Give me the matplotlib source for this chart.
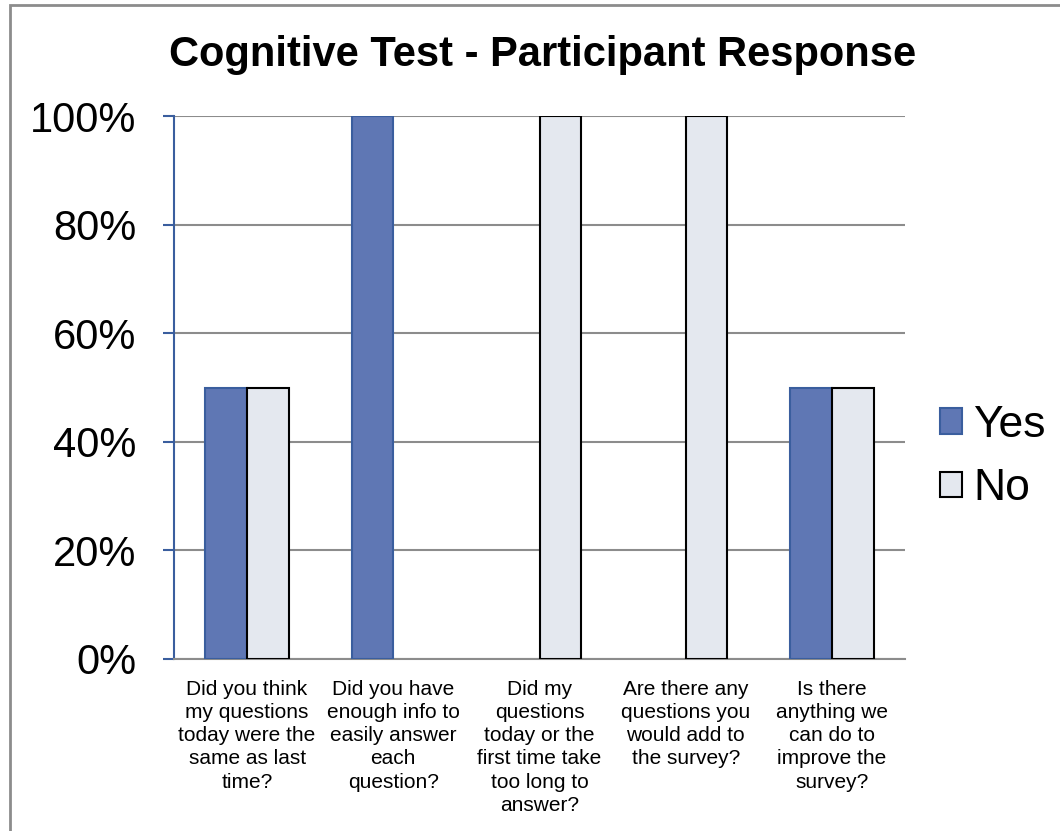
import matplotlib
matplotlib.use("Agg")
import matplotlib.pyplot as plt
import numpy as np
from matplotlib.patches import Rectangle, Patch

plt.rcParams['font.family'] = ['Liberation Sans', 'DejaVu Sans']

categories = [
    "Did you think\nmy questions\ntoday were the\nsame as last\ntime?",
    "Did you have\nenough info to\neasily answer\neach\nquestion?",
    "Did my\nquestions\ntoday or the\nfirst time take\ntoo long to\nanswer?",
    "Are there any\nquestions you\nwould add to\nthe survey?",
    "Is there\nanything we\ncan do to\nimprove the\nsurvey?",
]
yes_vals = [50, 100, 0, 0, 50]
no_vals = [50, 0, 100, 100, 50]
series_names = ["Yes", "No"]
yticks = [0, 20, 40, 60, 80, 100]
ytick_labels = ["0%", "20%", "40%", "60%", "80%", "100%"]
title = "Cognitive Test - Participant Response"

W, H = 1060, 831
fig = plt.figure(figsize=(W/100, H/100), dpi=100)
ax = fig.add_axes([174/W, 1-659/H, (905-174)/W, (659-116)/H])

x = np.arange(len(categories))
bw = 0.285
yes_c = "#5f77b4"; yes_e = "#3a5e9e"
no_c = "#e4e8ef"; no_e = "#000000"
yv = np.array(yes_vals, dtype=float)
nv = np.array(no_vals, dtype=float)
ym = yv > 0
nm = nv > 0
ax.bar(x[ym] - bw/2, yv[ym], bw, color=yes_c, edgecolor=yes_e, linewidth=1.5, zorder=3)
ax.bar(x[nm] + bw/2, nv[nm], bw, color=no_c, edgecolor=no_e, linewidth=1.5, zorder=3)

ax.set_xlim(-0.5, len(categories)-0.5)
ax.set_ylim(0, 100)
ax.set_yticks(yticks)
ax.set_yticklabels(ytick_labels, fontsize=30)
ax.yaxis.grid(True, color="#8c8c8c", linewidth=1.5, zorder=0)
ax.set_axisbelow(True)
ax.tick_params(axis='y', length=8, width=1.5, color=yes_e, pad=19, direction='out')
ax.tick_params(axis='x', length=0, pad=15)
ax.set_xticks(x)
ax.set_xticklabels(categories, fontsize=15, linespacing=1.28, va='top')
for s in ['top', 'right']:
    ax.spines[s].set_visible(False)
ax.spines['left'].set_color(yes_e)
ax.spines['left'].set_linewidth(1.5)
ax.spines['bottom'].set_color("#8c8c8c")
ax.spines['bottom'].set_linewidth(1.5)

fig.text(543/W, 1-55/H, title, ha='center', va='center', fontsize=30, fontweight='bold')

handles = [Patch(facecolor=yes_c, edgecolor=yes_e, linewidth=1.5),
           Patch(facecolor=no_c, edgecolor=no_e, linewidth=1.5)]
fig.legend(handles, series_names, loc='center left', bbox_to_anchor=(940/W, 1-457/H),
           frameon=False, fontsize=32, handlelength=0.5, handleheight=0.5,
           handletextpad=0.25, labelspacing=0.5, borderpad=0, borderaxespad=0)

fig.patches.append(Rectangle((10/W, -0.1), 1.2, 1.1-5/H, transform=fig.transFigure,
                             fill=False, edgecolor="#8c8c8c", linewidth=2))

fig.savefig("out.png", dpi=100)
